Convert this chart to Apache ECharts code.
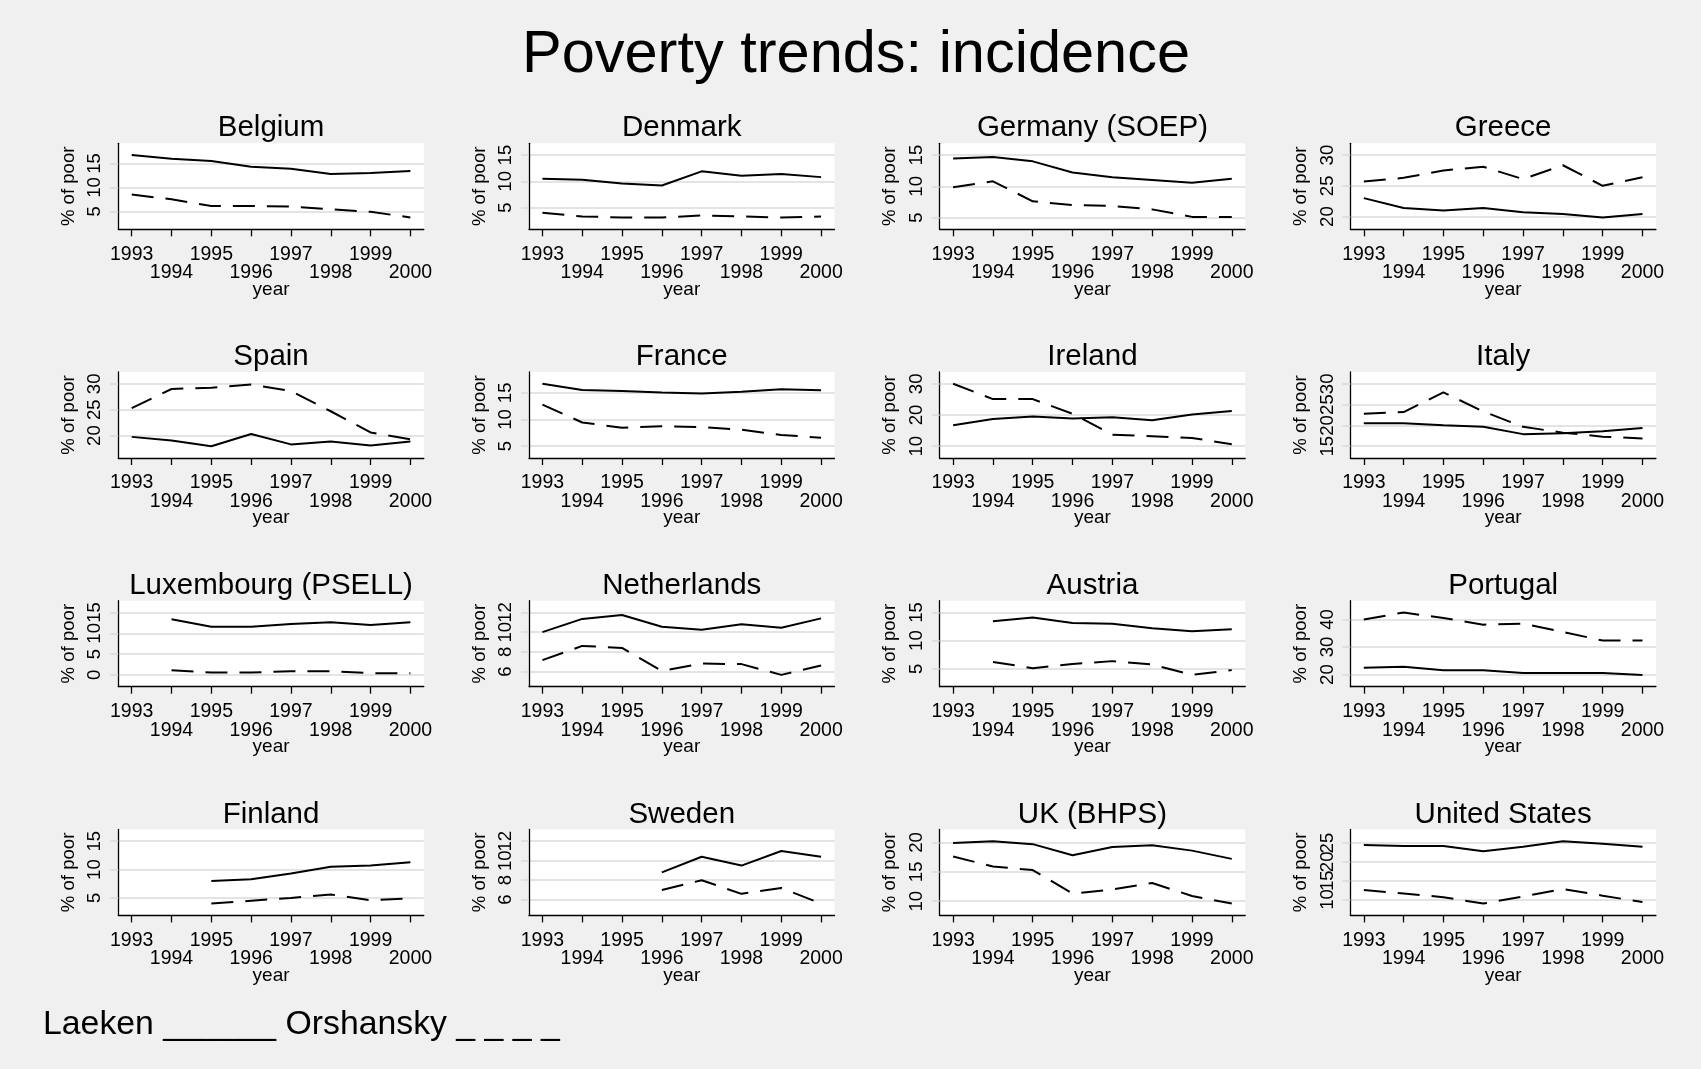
<!DOCTYPE html>
<html>
<head>
<meta charset="utf-8">
<script src="https://cdn.jsdelivr.net/npm/echarts@6/dist/echarts.min.js"></script>
<style>
  html, body { margin: 0; padding: 0; background: #f0f0f0; }
  #chart { width: 1701px; height: 1069px; }
</style>
</head>
<body>
<div id="chart"></div>
<script>
// Survey years shown on every x axis
const years = [1993, 1994, 1995, 1996, 1997, 1998, 1999, 2000];

// Panel titles, in reading order
const countries = ['Belgium', 'Denmark', 'Germany (SOEP)', 'Greece',
                   'Spain', 'France', 'Ireland', 'Italy',
                   'Luxembourg (PSELL)', 'Netherlands', 'Austria', 'Portugal',
                   'Finland', 'Sweden', 'UK (BHPS)', 'United States'];

// % of poor, Laeken definition (solid line); null = no survey wave
const laekenBelgium     = [16.75, 16.0, 15.5, 14.3, 13.9, 12.8, 13.0, 13.4];
const laekenDenmark     = [10.5, 10.3, 9.6, 9.2, 11.9, 11.05, 11.4, 10.8];
const laekenGermany     = [14.45, 14.7, 14.0, 12.2, 11.45, 11.0, 10.55, 11.2];
const laekenGreece      = [23.0, 21.4, 21.0, 21.4, 20.7, 20.4, 19.85, 20.4];
const laekenSpain       = [19.75, 19.05, 17.95, 20.3, 18.3, 18.85, 18.1, 18.85];
const laekenFrance      = [16.7, 15.55, 15.35, 15.05, 14.9, 15.2, 15.7, 15.5];
const laekenIreland     = [16.7, 18.7, 19.5, 18.9, 19.3, 18.35, 20.15, 21.3];
const laekenItaly       = [20.5, 20.5, 20.05, 19.65, 17.9, 18.1, 18.6, 19.4];
const laekenLuxembourg  = [null, 13.4, 11.6, 11.6, 12.25, 12.65, 12.0, 12.65];
const laekenNetherlands = [10.0, 11.35, 11.75, 10.55, 10.25, 10.8, 10.45, 11.4];
const laekenAustria     = [null, 13.45, 14.1, 13.15, 13.0, 12.2, 11.65, 12.0];
const laekenPortugal    = [22.5, 22.85, 21.55, 21.55, 20.6, 20.6, 20.6, 19.9];
const laekenFinland     = [null, null, 8.0, 8.3, 9.3, 10.5, 10.7, 11.3];
const laekenSweden      = [null, null, null, 8.8, 10.4, 9.5, 11.0, 10.4];
const laekenUK          = [19.9, 20.2, 19.7, 17.8, 19.2, 19.5, 18.6, 17.2];
const laekenUS          = [24.5, 24.2, 24.2, 22.8, 24.0, 25.5, 24.8, 24.0];

// % of poor, Orshansky definition (dashed line)
const orshanskyBelgium     = [8.5, 7.5, 6.1, 6.1, 6.0, 5.4, 4.9, 3.7];
const orshanskyDenmark     = [4.0, 3.3, 3.1, 3.1, 3.5, 3.3, 3.1, 3.3];
const orshanskyGermany     = [9.85, 10.8, 7.6, 7.0, 6.85, 6.3, 5.1, 5.1];
const orshanskyGreece      = [25.7, 26.3, 27.5, 28.1, 26.1, 28.35, 25.0, 26.4];
const orshanskySpain       = [25.3, 29.0, 29.25, 29.85, 28.6, 24.7, 20.6, 19.3];
const orshanskyFrance      = [12.8, 9.45, 8.45, 8.75, 8.6, 8.1, 7.1, 6.6];
const orshanskyIreland     = [30.0, 25.1, 25.1, 20.4, 13.7, 13.2, 12.65, 10.6];
const orshanskyItaly       = [22.8, 23.2, 27.95, 23.35, 19.65, 18.25, 17.3, 16.85];
const orshanskyLuxembourg  = [null, 1.1, 0.55, 0.55, 0.9, 0.9, 0.4, 0.4];
const orshanskyNetherlands = [7.15, 8.6, 8.4, 6.05, 6.8, 6.75, 5.65, 6.6];
const orshanskyAustria     = [null, 6.2, 5.1, 5.85, 6.35, 5.75, 3.9, 4.75];
const orshanskyPortugal    = [40.0, 42.5, 40.5, 38.1, 38.45, 35.45, 32.35, 32.35];
const orshanskyFinland     = [null, null, 4.0, 4.5, 5.0, 5.6, 4.6, 4.9];
const orshanskySweden      = [null, null, null, 7.0, 8.0, 6.6, 7.2, 5.6];
const orshanskyUK          = [17.6, 15.9, 15.3, 11.3, 12.0, 13.1, 10.9, 9.6];
const orshanskyUS          = [12.5, 11.6, 10.6, 8.9, 10.8, 12.8, 11.0, 9.3];

// y-axis tick labels of each panel
const ticksBelgium     = [5, 10, 15];
const ticksDenmark     = [5, 10, 15];
const ticksGermany     = [5, 10, 15];
const ticksGreece      = [20, 25, 30];
const ticksSpain       = [20, 25, 30];
const ticksFrance      = [5, 10, 15];
const ticksIreland     = [10, 20, 30];
const ticksItaly       = [15, 20, 25, 30];
const ticksLuxembourg  = [0, 5, 10, 15];
const ticksNetherlands = [6, 8, 10, 12];
const ticksAustria     = [5, 10, 15];
const ticksPortugal    = [20, 30, 40];
const ticksFinland     = [5, 10, 15];
const ticksSweden      = [6, 8, 10, 12];
const ticksUK          = [10, 15, 20];
const ticksUS          = [10, 15, 20, 25];

const laekenSeries = [laekenBelgium, laekenDenmark, laekenGermany, laekenGreece,
  laekenSpain, laekenFrance, laekenIreland, laekenItaly,
  laekenLuxembourg, laekenNetherlands, laekenAustria, laekenPortugal,
  laekenFinland, laekenSweden, laekenUK, laekenUS];
const orshanskySeries = [orshanskyBelgium, orshanskyDenmark, orshanskyGermany, orshanskyGreece,
  orshanskySpain, orshanskyFrance, orshanskyIreland, orshanskyItaly,
  orshanskyLuxembourg, orshanskyNetherlands, orshanskyAustria, orshanskyPortugal,
  orshanskyFinland, orshanskySweden, orshanskyUK, orshanskyUS];
const tickSets = [ticksBelgium, ticksDenmark, ticksGermany, ticksGreece,
  ticksSpain, ticksFrance, ticksIreland, ticksItaly,
  ticksLuxembourg, ticksNetherlands, ticksAustria, ticksPortugal,
  ticksFinland, ticksSweden, ticksUK, ticksUS];

// ---- layout of the 4 x 4 panel matrix (pixels) ----
const FONT = "'Liberation Sans', Arial, Helvetica, sans-serif";
const PLOT_LEFT0 = 118.3, PLOT_STEP_X = 410.7;
const PLOT_TOP0 = 143.3, PLOT_STEP_Y = 228.7;
const PLOT_W = 305.5, PLOT_H = 86;
const PLOT_MARGIN = 11.8;      // inner margin between data/ticks and the plot edge
const X_PAD = 0.337;           // same margin expressed in years
const X_LABEL_MARGIN = 15, X_ROW_STEP = 18.5;
const Y_LABEL_MARGIN = 13.5;

const grids = [], xAxes = [], yAxes = [], series = [], texts = [];

const pairs = (vals) => years.map((y, k) => [y, vals[k]]).filter(d => d[1] != null);
const everyOther = (arr, start) => arr.filter((_, k) => k % 2 === start);
const plain = v => String(v);   // no thousands separator on years

const labelText = { color: '#000', fontFamily: FONT };

countries.forEach((name, i) => {
  const r = Math.floor(i / 4), c = i % 4;
  const left = PLOT_LEFT0 + c * PLOT_STEP_X;
  const top = PLOT_TOP0 + r * PLOT_STEP_Y;
  const ticks = tickSets[i];
  const all = laekenSeries[i].concat(orshanskySeries[i]).filter(v => v != null).concat(ticks);
  const lo = Math.min(...all), hi = Math.max(...all);
  const pad = (hi - lo) * PLOT_MARGIN / (PLOT_H - 2 * PLOT_MARGIN);
  const xMin = years[0] - X_PAD, xMax = years[years.length - 1] + X_PAD;

  grids.push({
    left: left, top: top, width: PLOT_W, height: PLOT_H,
    show: true, backgroundColor: '#ffffff', borderWidth: 0,
    containLabel: false, outerBoundsMode: 'none'
  });

  // x axis: line, ticks at every year, first row of labels (odd years)
  const xMain = xAxes.length;
  xAxes.push({
    type: 'value', gridIndex: i, position: 'bottom', min: xMin, max: xMax,
    axisLine: { show: true, onZero: false, lineStyle: { color: '#000', width: 1.3 } },
    axisTick: { show: true, length: 7, customValues: years, lineStyle: { color: '#000', width: 1.3 } },
    axisLabel: Object.assign({
      customValues: everyOther(years, 0), margin: X_LABEL_MARGIN, fontSize: 19.5, formatter: plain,
      showMinLabel: true, showMaxLabel: true, hideOverlap: false
    }, labelText),
    splitLine: { show: false }
  });
  // second, staggered row of labels (even years) plus the axis title
  xAxes.push({
    type: 'value', gridIndex: i, position: 'bottom', offset: 0, min: xMin, max: xMax,
    name: 'year', nameLocation: 'middle', nameGap: 50.5, nameMoveOverlap: false,
    nameTextStyle: Object.assign({ fontSize: 19 }, labelText),
    axisLine: { show: false, onZero: false },
    axisTick: { show: false, customValues: everyOther(years, 1) },
    axisLabel: Object.assign({
      customValues: everyOther(years, 1), margin: X_LABEL_MARGIN + X_ROW_STEP, fontSize: 19.5, formatter: plain,
      showMinLabel: true, showMaxLabel: true, hideOverlap: false
    }, labelText),
    splitLine: { show: false }
  });

  // y axis: line, ticks, grid lines and alternate tick labels
  const yMain = yAxes.length;
  yAxes.push({
    type: 'value', gridIndex: i, position: 'left', min: lo - pad, max: hi + pad,
    name: '% of poor', nameLocation: 'middle', nameGap: 40, nameRotate: 90, nameMoveOverlap: false,
    nameTextStyle: Object.assign({ fontSize: 18.6 }, labelText),
    axisLine: { show: true, onZero: false, lineStyle: { color: '#000', width: 1.3 } },
    axisTick: { show: true, length: 8, customValues: ticks, lineStyle: { color: '#d9d9d9', width: 1.5 } },
    axisLabel: Object.assign({
      customValues: everyOther(ticks, 0), rotate: 90, margin: Y_LABEL_MARGIN, fontSize: 18.6, formatter: plain,
      showMinLabel: true, showMaxLabel: true, hideOverlap: false
    }, labelText),
    splitLine: { show: true, lineStyle: { color: '#e4e4e4', width: 2 } }
  });
  // remaining tick labels, on an identical overlaid scale so neighbours never compete
  yAxes.push({
    type: 'value', gridIndex: i, position: 'left', offset: 0, min: lo - pad, max: hi + pad,
    axisLine: { show: false, onZero: false },
    axisTick: { show: false, customValues: everyOther(ticks, 1) },
    axisLabel: Object.assign({
      customValues: everyOther(ticks, 1), rotate: 90, margin: Y_LABEL_MARGIN, fontSize: 18.6, formatter: plain,
      showMinLabel: true, showMaxLabel: true, hideOverlap: false
    }, labelText),
    splitLine: { show: true, lineStyle: { color: '#e4e4e4', width: 2 } }
  });

  series.push({
    name: 'Laeken', type: 'line', xAxisIndex: xMain, yAxisIndex: yMain,
    data: pairs(laekenSeries[i]), showSymbol: false, silent: true, z: 3,
    lineStyle: { color: '#000', width: 2 }
  });
  series.push({
    name: 'Orshansky', type: 'line', xAxisIndex: xMain, yAxisIndex: yMain,
    data: pairs(orshanskySeries[i]), showSymbol: false, silent: true, z: 3,
    lineStyle: { color: '#000', width: 2, type: [22, 12] }
  });

  // panel heading, centred over the plot region
  texts.push({
    type: 'text', x: left + PLOT_W / 2, y: top - 15, silent: true,
    style: { text: name, fill: '#000', font: '29.5px ' + FONT, textAlign: 'center', textVerticalAlign: 'middle' }
  });
});

texts.push({
  type: 'text', x: 856, y: 56, silent: true,
  style: { text: 'Poverty trends: incidence', fill: '#000', font: '59.5px ' + FONT, textAlign: 'center', textVerticalAlign: 'middle' }
});
texts.push({
  type: 'text', x: 43, y: 1025, silent: true,
  style: { text: 'Laeken ______ Orshansky _ _ _ _', fill: '#000', font: '33.8px ' + FONT, textAlign: 'left', textVerticalAlign: 'middle' }
});

const chart = echarts.init(document.getElementById('chart'), null, { renderer: 'canvas' });
chart.setOption({
  animation: false,
  backgroundColor: '#f0f0f0',
  grid: grids,
  xAxis: xAxes,
  yAxis: yAxes,
  series: series,
  graphic: texts
});
</script>
</body>
</html>
